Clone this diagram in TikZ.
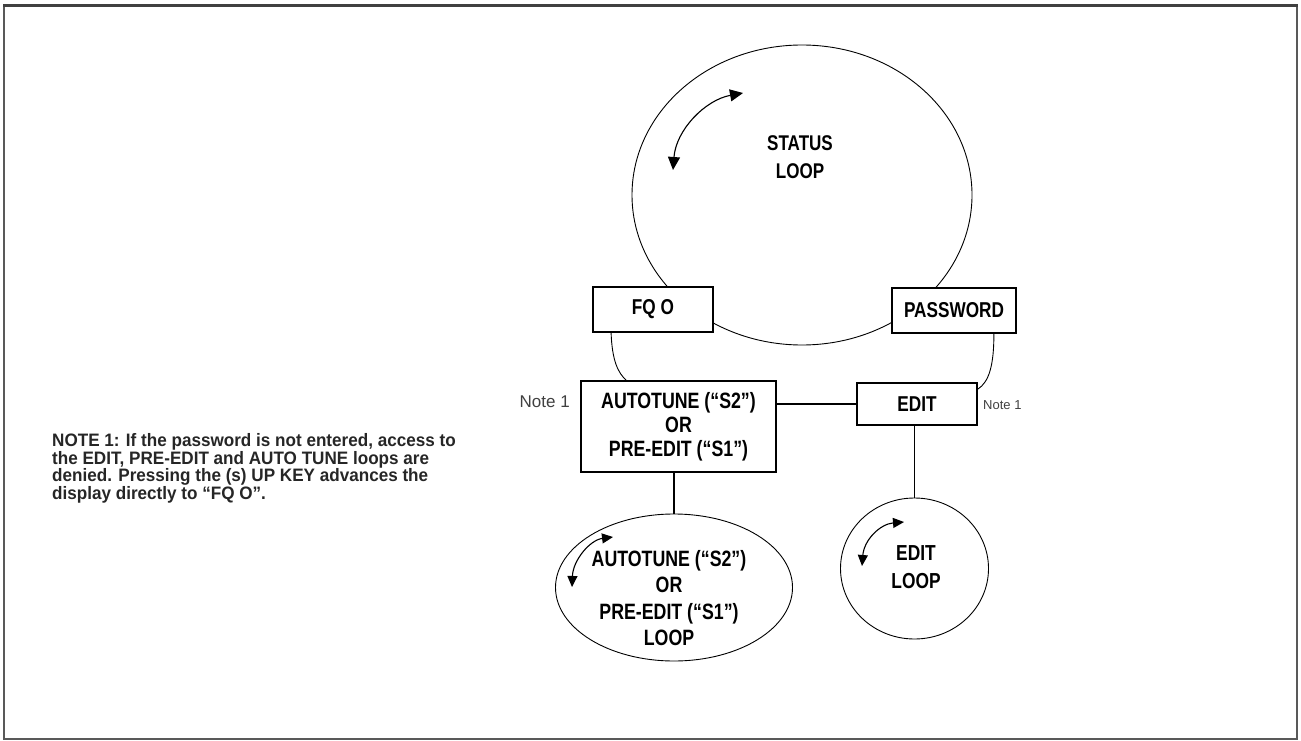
\documentclass[tikz,border=0pt]{standalone}
\usepackage{fontspec}
\setmainfont{Liberation Sans}
\newfontfamily\cond[FakeStretch=0.8]{Liberation Sans}
\newfontfamily\condnote[FakeStretch=0.95]{Liberation Sans}
\usetikzlibrary{arrows.meta,shapes.geometric}
\tikzset{
  box/.style={draw, line width=1.8pt, fill=white, align=center, inner sep=0pt,
              font=\cond\bfseries\fontsize{21.5}{24}\selectfont},
  loop/.style={draw, line width=0.9pt, ellipse, inner sep=0pt},
  conn/.style={draw, line width=1.1pt},
  rot/.style={line width=1.1pt, {Triangle[length=11pt,width=10pt]}-{Triangle[length=11pt,width=10pt]}},
  lbl/.style={align=center, inner sep=0pt, font=\cond\bfseries\fontsize{21.3}{27.5}\selectfont},
  note/.style={inner sep=0pt, text=black!75, font=\fontsize{17}{19}\selectfont},
}
\begin{document}
\begin{tikzpicture}[x=1pt,y=-1pt]
\useasboundingbox (0,0) rectangle (1301,741);
\draw[line width=2pt, black!65] (4,6) rectangle (1297,739);
\draw[line width=3pt, black!75] (3,6) -- (1298,6);

% loops
\node[loop, minimum width=340pt, minimum height=300pt] (status) at (802,195) {};
\node[loop, minimum width=237pt, minimum height=147pt] (aloop) at (674,587.5) {};
\node[loop, minimum width=148pt, minimum height=141pt] (eloop) at (914.5,568.5) {};

% boxes
\node[box, minimum width=120pt, minimum height=45pt] (fq) at (653,309.5) {FQ O};
\node[box, minimum width=124pt, minimum height=45pt] (pw) at (954,310.5) {PASSWORD};
\node[box, minimum width=195pt, minimum height=91pt, font=\cond\bfseries\fontsize{22.2}{24}\selectfont] (auto) at (678.5,426.5)
  {AUTOTUNE (“S2”)\\OR\\PRE-EDIT (“S1”)};
\node[box, minimum width=120pt, minimum height=42pt] (edit) at (917,404) {EDIT};

% labels
\node[lbl] (stxt) at (800,157) {STATUS\\LOOP};
\node[lbl, font=\cond\bfseries\fontsize{22.2}{26.3}\selectfont] (atxt) at (669,598) {AUTOTUNE (“S2”)\\OR\\PRE-EDIT (“S1”)\\LOOP};
\node[lbl, font=\cond\bfseries\fontsize{21.7}{28}\selectfont] (etxt) at (916,567) {EDIT\\LOOP};
\node[note, anchor=east] (n1) at (570,402) {Note 1};
\node[note, anchor=west, font=\fontsize{13}{15}\selectfont] (n2) at (983,405) {Note 1};
\node[anchor=north west, align=left, inner sep=0pt, text=black!85,
      font=\condnote\bfseries\fontsize{18}{16.6}\selectfont] (note) at (52,433)
  {NOTE 1: If the password is not entered, access to\\
   the EDIT, PRE-EDIT and AUTO TUNE loops are\\
   denied. Pressing the (s) UP KEY advances the\\
   display directly to “FQ O”.};

% connectors
\draw[conn] (edit.west) -- (edit.west -| auto.east);
\draw[conn] (aloop.north) -- (aloop.north |- auto.south);
\draw[conn] (eloop.north) -- (eloop.north |- edit.south);
\draw[conn, line width=0.9pt] ([xshift=19pt]fq.south west) .. controls ([xshift=20pt,yshift=-28pt]fq.south west) and ([xshift=26pt,yshift=-40pt]fq.south west) .. ([xshift=46pt]auto.north west);
\draw[conn, line width=0.9pt] ([xshift=-23pt]pw.south east) .. controls ([xshift=-23pt,yshift=-32pt]pw.south east) and ([xshift=-28pt,yshift=-48pt]pw.south east) .. ([yshift=-7pt]edit.north east);

% rotation arrows
\coordinate (s1) at (673,170); \coordinate (s2) at (743,93);
\draw[rot, {Triangle[length=13pt,width=12pt]}-{Triangle[length=13pt,width=12pt]}] (s1) .. controls (676,130) and (705,100) .. (s2);
\coordinate (a1) at (572,587); \coordinate (a2) at (613,537);
\draw[rot] (a1) .. controls (573,560) and (590,540) .. (a2);
\coordinate (e1) at (862,566); \coordinate (e2) at (904,522);
\draw[rot] (e1) .. controls (864,540) and (880,524) .. (e2);
\end{tikzpicture}
\end{document}
